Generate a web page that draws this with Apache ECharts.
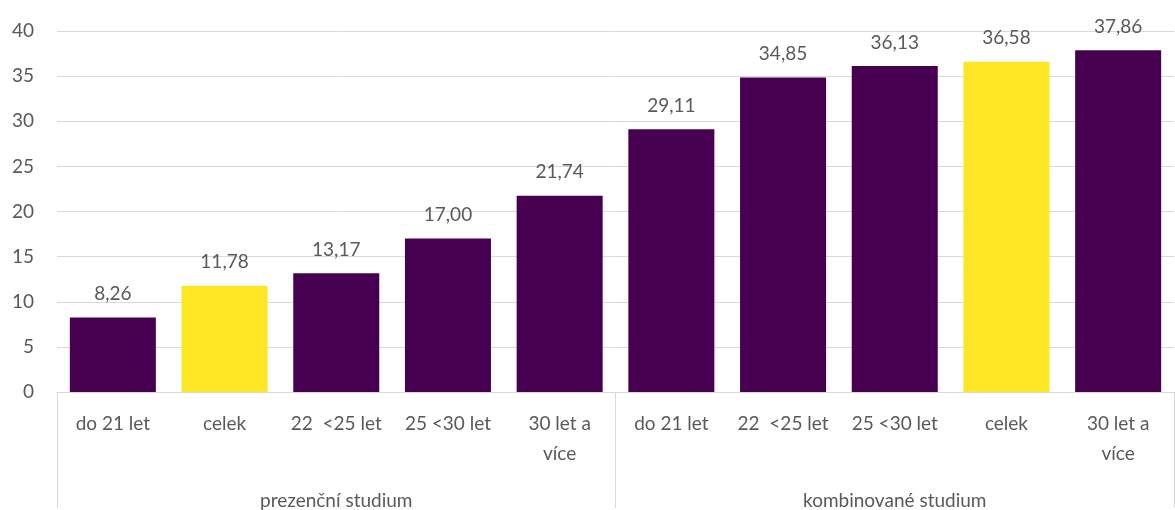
<!DOCTYPE html>
<html><head><meta charset="utf-8">
<script src="https://cdn.jsdelivr.net/npm/echarts@6/dist/echarts.min.js"></script>
<style>html,body{margin:0;padding:0;background:#fff}#c{width:1175px;height:510px}</style>
</head><body><div id="c"></div>
<script>
const categories = ['do 21 let','celek','22  <25 let','25 <30 let','30 let a\nvíce','do 21 let','22  <25 let','25 <30 let','celek','30 let a\nvíce'];
const groups = ['prezenční studium','kombinované studium'];
const values = [8.26, 11.78, 13.17, 17.00, 21.74, 29.11, 34.85, 36.13, 36.58, 37.86];
const isTotal = [false, true, false, false, false, false, false, false, true, false];
const yTicks = {min: 0, max: 40, interval: 5};

const PURPLE = '#470050', YELLOW = '#FDE725', TXT = '#595959', GRID = '#d9d9d9';
const FONT = 'Lato';
const FS = 19;

const chart = echarts.init(document.getElementById('c'), null, {renderer: 'canvas'});
chart.setOption({
  animation: false,
  grid: {left: 57, right: 1, top: 31, bottom: 116, containLabel: false},
  xAxis: [
    {type: 'category', data: categories, position: 'bottom',
     axisLine: {show: true, lineStyle: {color: GRID, width: 1}},
     axisTick: {show: false},
     axisLabel: {color: TXT, fontSize: FS, fontFamily: FONT, margin: 17, lineHeight: 30, interval: 0}},
    {type: 'category', data: groups, position: 'bottom',
     axisLine: {show: false},
     axisTick: {show: true, length: 116, lineStyle: {color: GRID, width: 1}},
     axisLabel: {color: TXT, fontSize: FS, fontFamily: FONT, margin: 99, interval: 0},
     splitLine: {show: false}}
  ],
  yAxis: {type: 'value', min: yTicks.min, max: yTicks.max, interval: yTicks.interval,
    axisLine: {show: false}, axisTick: {show: false},
    splitLine: {lineStyle: {color: GRID, width: 1}},
    axisLabel: {color: TXT, fontSize: FS, fontFamily: FONT, margin: 23}},
  series: [{
    type: 'bar', xAxisIndex: 0, barWidth: '77%',
    data: values.map((v, i) => ({value: v, itemStyle: {color: isTotal[i] ? YELLOW : PURPLE}})),
    label: {show: true, position: 'top', distance: 14, color: TXT, fontSize: FS, fontFamily: FONT,
      formatter: p => p.value.toFixed(2).replace('.', ',')}
  }]
});
</script></body></html>
